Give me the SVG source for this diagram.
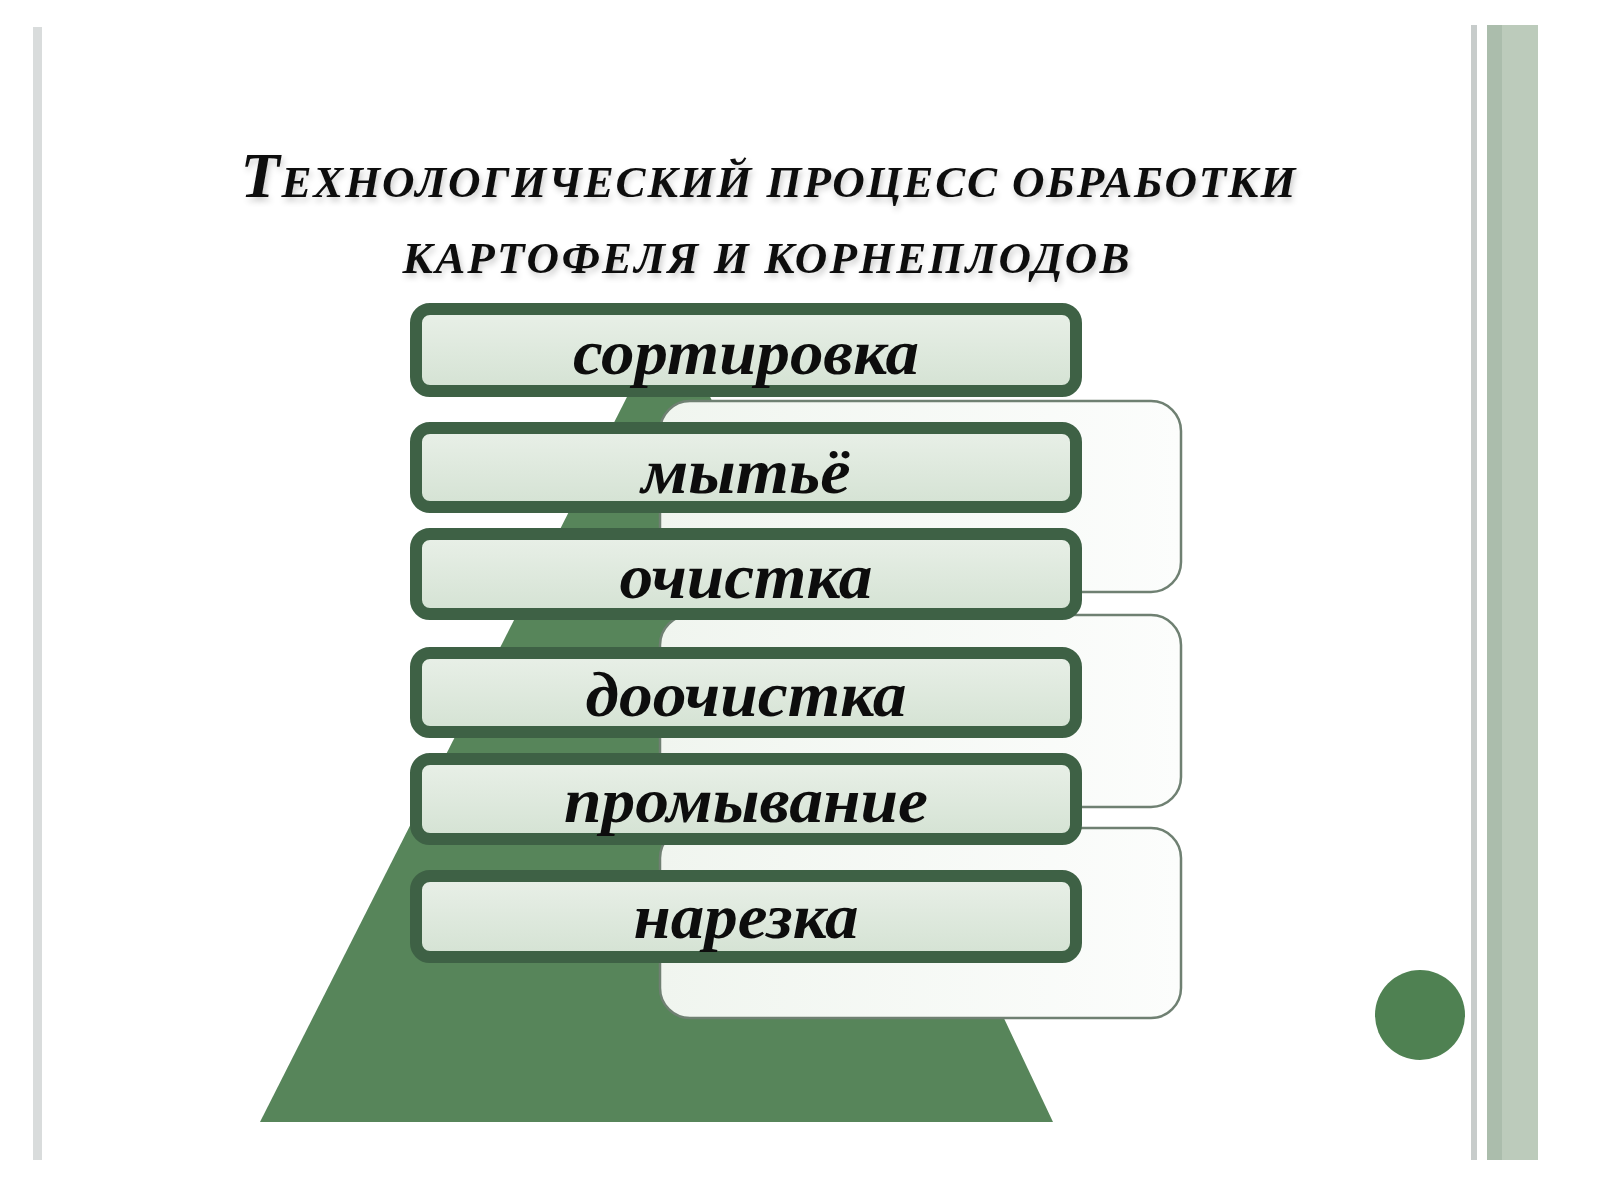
<svg xmlns="http://www.w3.org/2000/svg" width="1600" height="1200" viewBox="0 0 1600 1200">
  <defs>
    <linearGradient id="boxFill" x1="0" y1="0" x2="0" y2="1">
      <stop offset="0" stop-color="#e9f0e8"/>
      <stop offset="1" stop-color="#d4e2d3"/>
    </linearGradient>
    <linearGradient id="brFill" x1="0" y1="0" x2="1" y2="0">
      <stop offset="0" stop-color="#f0f5ef"/>
      <stop offset="1" stop-color="#fcfdfc"/>
    </linearGradient>
    <filter id="tshadow" x="-5%" y="-20%" width="110%" height="160%">
      <feGaussianBlur in="SourceAlpha" stdDeviation="3"/>
      <feOffset dx="2" dy="4" result="b"/>
      <feComponentTransfer><feFuncA type="linear" slope="0.2"/></feComponentTransfer>
      <feMerge><feMergeNode/><feMergeNode in="SourceGraphic"/></feMerge>
    </filter>
  </defs>
  <style>
    .box { fill: url(#boxFill); stroke: #3e6145; stroke-width: 12; }
    .lbl { font-family: "Liberation Serif", "Times New Roman", serif; font-weight: bold; font-style: italic; font-size: 64px; fill: #0d0d0d; text-anchor: middle; }
    .title { font-family: "Liberation Serif", "Times New Roman", serif; font-weight: bold; font-style: italic; fill: #111; text-anchor: middle; }
    .br { fill: url(#brFill); stroke: #6f8072; stroke-width: 2.5; }
  </style>
  <rect x="0" y="0" width="1600" height="1200" fill="#ffffff"/>

  <!-- frame lines -->
  <rect x="33" y="27" width="9" height="1133" fill="#d9dcdc"/>
  <rect x="1471" y="25" width="6" height="1135" fill="#c7cccb"/>
  <rect x="1487" y="25" width="51" height="1135" fill="#bccbbb"/>
  <rect x="1487" y="25" width="15" height="1135" fill="#abbdac"/>

  <!-- title -->
  <g id="title" filter="url(#tshadow)">
    <text class="title" x="768" y="197" textLength="1055" lengthAdjust="spacing"><tspan font-size="64">Т</tspan><tspan font-size="45">ЕХНОЛОГИЧЕСКИЙ ПРОЦЕСС ОБРАБОТКИ</tspan></text>
    <text class="title" x="766" y="273" font-size="45" textLength="727" lengthAdjust="spacing">КАРТОФЕЛЯ И КОРНЕПЛОДОВ</text>
  </g>

  <!-- pyramid -->
  <polygon id="pyramid" points="260,1122 1053,1122 670,312" fill="#57855a"/>

  <!-- circle -->
  <circle id="dot" cx="1420" cy="1015" r="45" fill="#4f8152"/>

  <!-- brackets / connectors -->
  <g id="connectors">
    <rect class="br" x="660" y="401" width="521" height="191" rx="30"/>
    <rect class="br" x="660" y="615" width="521" height="192" rx="30"/>
    <rect class="br" x="660" y="828" width="521" height="190" rx="30"/>
  </g>

  <!-- nodes -->
  <g id="node-sortirovka">
    <rect class="box" x="416" y="309" width="660" height="82" rx="14"/>
    <text class="lbl" x="746" y="374" textLength="346" lengthAdjust="spacingAndGlyphs">сортировка</text>
  </g>
  <g id="node-mytyo">
    <rect class="box" x="416" y="428" width="660" height="79" rx="14"/>
    <text class="lbl" x="746" y="493" textLength="209" lengthAdjust="spacingAndGlyphs">мытьё</text>
  </g>
  <g id="node-ochistka">
    <rect class="box" x="416" y="534" width="660" height="80" rx="14"/>
    <text class="lbl" x="746" y="598" textLength="253" lengthAdjust="spacingAndGlyphs">очистка</text>
  </g>
  <g id="node-doochistka">
    <rect class="box" x="416" y="653" width="660" height="79" rx="14"/>
    <text class="lbl" x="746" y="716" textLength="321" lengthAdjust="spacingAndGlyphs">доочистка</text>
  </g>
  <g id="node-promyvanie">
    <rect class="box" x="416" y="759" width="660" height="80" rx="14"/>
    <text class="lbl" x="746" y="822" textLength="364" lengthAdjust="spacingAndGlyphs">промывание</text>
  </g>
  <g id="node-narezka">
    <rect class="box" x="416" y="876" width="660" height="81" rx="14"/>
    <text class="lbl" x="746" y="938" textLength="225" lengthAdjust="spacingAndGlyphs">нарезка</text>
  </g>
</svg>
